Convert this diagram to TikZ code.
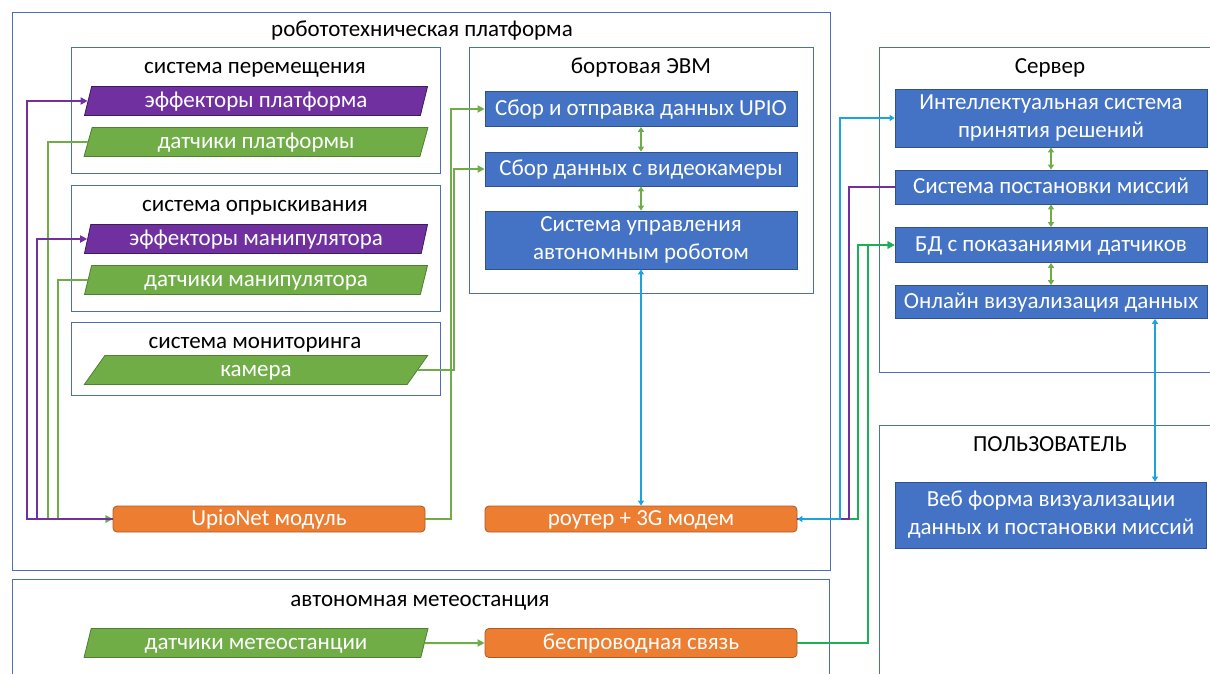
\documentclass[tikz,border=0pt]{standalone}
\usepackage{fontspec}
\setmainfont{Carlito}
\usetikzlibrary{shapes.geometric,arrows.meta}
\definecolor{frameblue}{HTML}{4A6FB5}
\definecolor{boxblue}{HTML}{4472C4}
\definecolor{boxblueline}{HTML}{2F528F}
\definecolor{orng}{HTML}{ED7D31}
\definecolor{orngline}{HTML}{AE5A21}
\definecolor{purp}{HTML}{7030A0}
\definecolor{purpline}{HTML}{3F1C5E}
\definecolor{grn}{HTML}{70AD47}
\definecolor{grnline}{HTML}{507E32}
\definecolor{cyanl}{HTML}{1AA3DF}
\definecolor{grn2}{HTML}{1DAF55}
\tikzset{
  frame/.style={draw=frameblue, line width=0.9pt},
  oneline/.style={text height=16.5pt, text depth=3pt},
  ttl/.style={font=\fontsize{23}{26}\selectfont, text=black, inner sep=0pt, oneline},
  bbox/.style={draw=boxblueline, fill=boxblue, text=white, font=\fontsize{23}{28}\selectfont,
    minimum width=312, inner sep=0pt, align=center, line width=0.8pt},
  bbox1/.style={bbox, oneline},
  obox/.style={draw=orngline, fill=orng, text=white, font=\fontsize{23}{26}\selectfont,
    minimum width=312, inner sep=0pt, rounded corners=4pt, line width=0.8pt, oneline},
  para/.style={trapezium, trapezium left angle=76, trapezium right angle=104, trapezium stretches=true,
    minimum width=344, minimum height=29, inner sep=0pt, text=white, font=\fontsize{23}{26}\selectfont, line width=0.8pt,
    oneline},
  ppara/.style={para, fill=purp, draw=purpline},
  gpara/.style={para, fill=grn, draw=grnline},
  tip/.style={-{Triangle[length=7pt,width=7pt]}},
  dtip/.style={{Triangle[length=5pt,width=6pt]}-{Triangle[length=5pt,width=6pt]}},
  pl/.style={draw=purp, line width=2pt},
  gl/.style={draw=grn, line width=2pt},
  gl2/.style={draw=grn2, line width=2pt},
  bl/.style={draw=cyanl, line width=2pt},
}
\begin{document}
\begin{tikzpicture}[x=1pt,y=-1pt]
\useasboundingbox (0,0) rectangle (1210,673);
% frames
\draw[frame] (12,12) rectangle (830,570);
\draw[frame] (71,47) rectangle (440,173);
\draw[frame] (71,185) rectangle (440,311);
\draw[frame] (71,322) rectangle (440,395);
\draw[frame] (469,47) rectangle (813,293);
\draw[frame] (879,47) rectangle (1220,372);
\draw[frame] (879,425) rectangle (1220,690);
\draw[frame] (12,579) rectangle (829,690);
% titles
\node[ttl] (tplat) at (422,30) {робототехническая платформа};
\node[ttl] (tmove) at (255,67) {система перемещения};
\node[ttl] (tspray) at (255,205) {система опрыскивания};
\node[ttl] (tmon) at (255,342) {система мониторинга};
\node[ttl] (tevm) at (641,67) {бортовая ЭВМ};
\node[ttl] (tsrv) at (1050,67) {Сервер};
\node[ttl] (tusr) at (1050,445) {ПОЛЬЗОВАТЕЛЬ};
\node[ttl] (tmet) at (420,600) {автономная метеостанция};
% parallelograms
\node[ppara] (ep) at (256,101) {эффекторы платформа};
\node[gpara] (dp) at (256,142) {датчики платформы};
\node[ppara] (em) at (256,239) {эффекторы манипулятора};
\node[gpara] (dm) at (256,280) {датчики манипулятора};
\node[gpara] (cam) at (256,370) {камера};
\node[gpara] (ms) at (256,643) {датчики метеостанции};
% orange
\node[obox, minimum height=26] (upio) at (269,519) {UpioNet модуль};
\node[obox, minimum height=26] (router) at (641,519) {роутер + 3G модем};
\node[obox, minimum height=29] (wl) at (641,643) {беспроводная связь};
% EVM boxes
\node[bbox1, minimum height=35] (b1) at (641,109) {Сбор и отправка данных UPIO};
\node[bbox1, minimum height=34] (b2) at (641,169) {Сбор данных с видеокамеры};
\node[bbox, minimum height=58] (b3) at (641,240) {Система управления\\автономным роботом};
% server boxes
\node[bbox, minimum height=58] (s1) at (1051,118) {Интеллектуальная система\\принятия решений};
\node[bbox1, minimum height=34] (s2) at (1051,187) {Система постановки миссий};
\node[bbox1, minimum height=35] (s3) at (1051,245) {БД с показаниями датчиков};
\node[bbox1, minimum height=33] (s4) at (1051,302) {Онлайн визуализация данных};
\node[bbox, minimum height=66, minimum width=311] (web) at (1051,515) {Веб форма визуализации\\данных и постановки миссий};
% left connectors
\draw[gl,tip] (dp.west) -- ++(-40,0) |- (upio.west);
\draw[gl,tip] (dm.west) -- ++(-30,0) |- (upio.west);
\draw[pl,tip] (upio.west) -- ++(-86,0) |- (ep.west);
\draw[pl,tip] (upio.west) -- ++(-76,0) |- (em.west);
% middle connectors
\draw[gl,tip] (upio.east) -- ++(26,0) |- (b1.west);
\draw[gl,tip] (cam.east) -- ++(36,0) |- (b2.west);
\draw[gl,dtip] (b1) -- (b2);
\draw[gl,dtip] (b2) -- (b3);
\draw[bl,dtip] (b3) -- (router);
\draw[gl,tip] (ms.east) -- (wl.west);
% right connectors
\draw[gl2,tip] (router.east) -- ++(61,0) |- (s3.west);
\draw[gl2,tip] (wl.east) -- ++(71,0) |- (s3.west);
\draw[pl] (s2.west) -- ++(-46,0) |- (router.east);
\draw[bl,dtip] (router.east) -- ++(43,0) |- (s1.west);
\draw[gl,dtip] (s1) -- (s2);
\draw[gl,dtip] (s2) -- (s3);
\draw[gl,dtip] (s3) -- (s4);
\draw[bl,dtip] ([xshift=104]s4.south) -- ([xshift=104]web.north);
\end{tikzpicture}
\end{document}
